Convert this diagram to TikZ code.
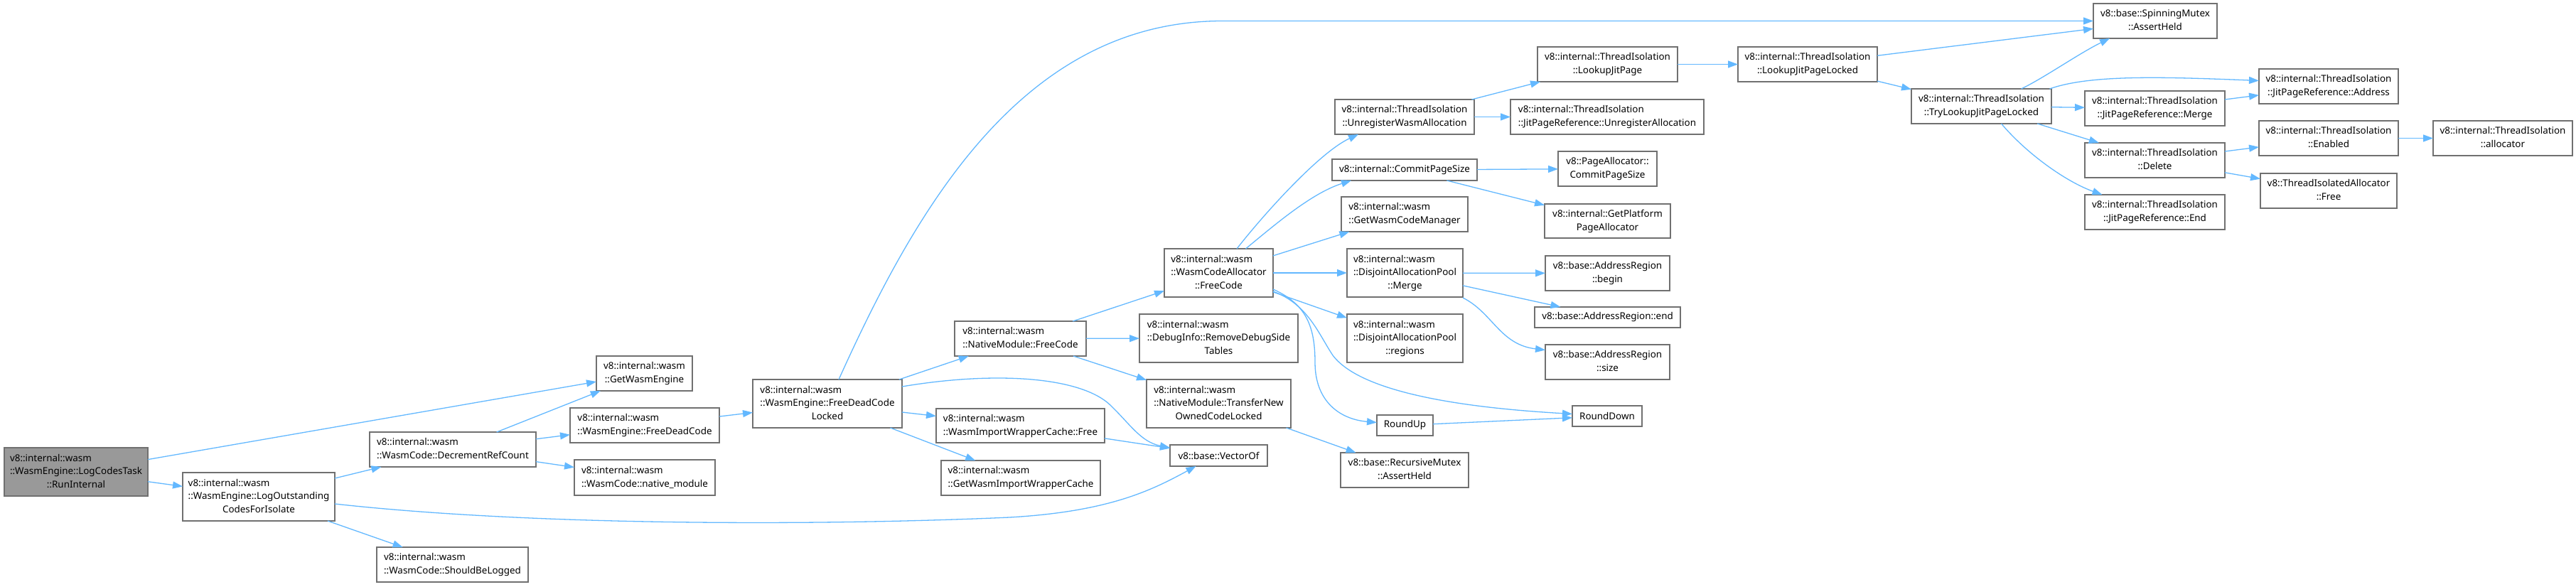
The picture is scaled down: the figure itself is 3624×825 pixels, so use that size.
\documentclass[tikz,border=0pt]{standalone}
\usepackage{fontspec}
\setmainfont{Noto Sans}
\usetikzlibrary{arrows.meta}
\definecolor{edgecol}{HTML}{63B8FF}
\definecolor{nodeborder}{HTML}{707070}
\definecolor{rootfill}{HTML}{999999}
\newcommand{\tl}[2]{\begin{tabular}{@{}l@{}}#1\\\multicolumn{1}{@{}c@{}}{#2}\end{tabular}}
\newcommand{\bx}[7]{%
  \pgfmathsetmacro{\bxcx}{(#2+#4)/2}\pgfmathsetmacro{\bxcy}{(#3+#5)/2}%
  \pgfmathsetmacro{\bxw}{#4-#2}\pgfmathsetmacro{\bxh}{#5-#3}%
  \node[box,#6,minimum width=\bxw pt,minimum height=\bxh pt] (#1) at (\bxcx,\bxcy) {#7};}
\tikzset{
  box/.style={draw=nodeborder,fill=white,line width=1.3pt,inner sep=0pt,outer sep=0pt,
    font=\fontsize{13.4}{18.7}\selectfont,text=black},
  rootbox/.style={fill=rootfill,draw=nodeborder},
  plain/.style={},
  edge/.style={draw=edgecol,line width=1.3pt,-{Triangle[length=14pt,width=10pt]}}
}
\begin{document}
\begin{tikzpicture}[x=1pt,y=-1pt]
\useasboundingbox (0,0) rectangle (3624,825);
\bx{run}{6}{630}{208}{698}{rootbox}{\tl{v8::internal::wasm\\::WasmEngine::LogCodesTask}{::RunInternal}}
\bx{log}{257}{665}{471}{733}{plain}{\tl{v8::internal::wasm\\::WasmEngine::LogOutstanding}{CodesForIsolate}}
\bx{gwe}{839}{501}{974}{550}{plain}{\tl{v8::internal::wasm}{::GetWasmEngine}}
\bx{dec}{520}{608}{754}{657}{plain}{\tl{v8::internal::wasm}{::WasmCode::DecrementRefCount}}
\bx{fdc}{802}{574}{1012}{623}{plain}{\tl{v8::internal::wasm}{::WasmEngine::FreeDeadCode}}
\bx{nm}{808}{647}{1006}{697}{plain}{\tl{v8::internal::wasm}{::WasmCode::native\_module}}
\bx{sbl}{530}{770}{743}{819}{plain}{\tl{v8::internal::wasm}{::WasmCode::ShouldBeLogged}}
\bx{fdcl}{1059}{534}{1269}{602}{plain}{\tl{v8::internal::wasm\\::WasmEngine::FreeDeadCode}{Locked}}
\bx{nmfc}{1343}{452}{1528}{501}{plain}{\tl{v8::internal::wasm}{::NativeModule::FreeCode}}
\bx{iwcf}{1317}{575}{1554}{623}{plain}{\tl{v8::internal::wasm}{::WasmImportWrapperCache::Free}}
\bx{giwc}{1324}{648}{1548}{697}{plain}{\tl{v8::internal::wasm}{::GetWasmImportWrapperCache}}
\bx{vof}{1646}{626}{1783}{656}{plain}{v8::base::VectorOf}
\bx{dbg}{1603}{442}{1826}{510}{plain}{\tl{v8::internal::wasm\\::DebugInfo::RemoveDebugSide}{Tables}}
\bx{tnoc}{1613}{534}{1816}{602}{plain}{\tl{v8::internal::wasm\\::NativeModule::TransferNew}{OwnedCodeLocked}}
\bx{wcafc}{1638}{350}{1791}{418}{plain}{\tl{v8::internal::wasm\\::WasmCodeAllocator}{::FreeCode}}
\bx{uwa}{1878}{140}{2074}{189}{plain}{\tl{v8::internal::ThreadIsolation}{::UnregisterWasmAllocation}}
\bx{jpua}{2125}{140}{2397}{189}{plain}{\tl{v8::internal::ThreadIsolation}{::JitPageReference::UnregisterAllocation}}
\bx{cps}{1874}{224}{2078}{254}{plain}{v8::internal::CommitPageSize}
\bx{pacps}{2192}{213}{2331}{262}{plain}{\tl{v8::PageAllocator::}{CommitPageSize}}
\bx{gwcm}{1887}{277}{2065}{326}{plain}{\tl{v8::internal::wasm}{::GetWasmCodeManager}}
\bx{gppa}{2173}{287}{2350}{335}{plain}{\tl{v8::internal::GetPlatform}{PageAllocator}}
\bx{dapm}{1895}{350}{2058}{418}{plain}{\tl{v8::internal::wasm\\::DisjointAllocationPool}{::Merge}}
\bx{arb}{2174}{360}{2349}{409}{plain}{\tl{v8::base::AddressRegion}{::begin}}
\bx{are}{2159}{432}{2364}{461}{plain}{v8::base::AddressRegion::end}
\bx{dapr}{1895}{442}{2058}{510}{plain}{\tl{v8::internal::wasm\\::DisjointAllocationPool}{::regions}}
\bx{ars}{2174}{485}{2349}{534}{plain}{\tl{v8::base::AddressRegion}{::size}}
\bx{rup}{1937}{584}{2016}{613}{plain}{RoundUp}
\bx{rdn}{2212}{571}{2310}{600}{plain}{RoundDown}
\bx{rma}{1886}{637}{2066}{686}{plain}{\tl{v8::base::RecursiveMutex}{::AssertHeld}}
\bx{ljp}{2163}{66}{2360}{115}{plain}{\tl{v8::internal::ThreadIsolation}{::LookupJitPage}}
\bx{ljpl}{2445}{66}{2641}{115}{plain}{\tl{v8::internal::ThreadIsolation}{::LookupJitPageLocked}}
\bx{tljpl}{2689}{125}{2886}{174}{plain}{\tl{v8::internal::ThreadIsolation}{::TryLookupJitPageLocked}}
\bx{sma}{2945}{5}{3119}{54}{plain}{\tl{v8::base::SpinningMutex}{::AssertHeld}}
\bx{jpa}{3178}{97}{3374}{146}{plain}{\tl{v8::internal::ThreadIsolation}{::JitPageReference::Address}}
\bx{jpm}{2933}{128}{3130}{177}{plain}{\tl{v8::internal::ThreadIsolation}{::JitPageReference::Merge}}
\bx{en}{3178}{170}{3374}{219}{plain}{\tl{v8::internal::ThreadIsolation}{::Enabled}}
\bx{alloc}{3423}{170}{3619}{219}{plain}{\tl{v8::internal::ThreadIsolation}{::allocator}}
\bx{del}{2933}{201}{3130}{250}{plain}{\tl{v8::internal::ThreadIsolation}{::Delete}}
\bx{tiaf}{3180}{244}{3372}{293}{plain}{\tl{v8::ThreadIsolatedAllocator}{::Free}}
\bx{jpe}{2933}{274}{3130}{323}{plain}{\tl{v8::internal::ThreadIsolation}{::JitPageReference::End}}
% straight edges
\foreach \a/\b in {run/gwe,run/log,log/dec,log/sbl,dec/gwe,dec/fdc,dec/nm,fdc/fdcl,
  fdcl/nmfc,fdcl/iwcf,fdcl/giwc,nmfc/wcafc,nmfc/dbg,nmfc/tnoc,tnoc/rma,iwcf/vof,
  wcafc/gwcm,wcafc/dapm,wcafc/dapr,uwa/ljp,uwa/jpua,cps/pacps,cps/gppa,
  dapm/arb,dapm/are,rup/rdn,ljp/ljpl,ljpl/tljpl,ljpl/sma,tljpl/jpm,tljpl/del,
  jpm/jpa,del/en,del/tiaf,en/alloc}
  \draw[edge] (\a) -- (\b);
% curved edges
\draw[edge] ([xshift=16pt]fdcl.north) .. controls (1290,290) and (1440,29.5) .. (1720,29.5) -- (sma.west);
\draw[edge] ([yshift=24pt]fdcl.east) .. controls (1400,522) and (1520,530) .. (1562,570)
  .. controls (1590,597) and (1605,622) .. ([yshift=11pt]vof.west);
\draw[edge] ([yshift=-10pt]log.east) .. controls (750,740) and (1150,740) .. (1420,728)
  .. controls (1560,720) and (1620,690) .. ([xshift=-32pt]vof.south);
\draw[edge] ([yshift=-23pt]wcafc.east) .. controls (1838,428) and (1850,460) .. (1850,510)
  .. controls (1850,565) and (1885,590) .. ([yshift=4pt]rup.west);
\draw[edge] ([yshift=-26pt]wcafc.east) .. controls (1840,428) and (1855,470) .. (1875,500)
  .. controls (1920,560) and (2100,576) .. ([yshift=3pt]rdn.west);
\draw[edge] ([xshift=25.5pt]wcafc.north) .. controls (1775,305) and (1855,215) .. ([xshift=-65pt]uwa.south);
\draw[edge] ([xshift=38pt]wcafc.north) .. controls (1795,315) and (1845,272) .. ([xshift=-75pt]cps.south);
\draw[edge] ([yshift=-35pt]dapm.east) .. controls (2100,440) and (2110,485) .. ([yshift=17pt]ars.west);
\draw[edge] ([xshift=56pt]tljpl.north) .. controls (2875,110) and (2925,75) .. ([xshift=-64pt]sma.south);
\draw[edge] ([xshift=96pt]tljpl.north) .. controls (2940,105) and (3040,108) .. ([yshift=8pt]jpa.west);
\draw[edge] ([xshift=28pt]tljpl.south) .. controls (2850,215) and (2905,255) .. ([xshift=-74pt]jpe.north);
\end{tikzpicture}
\end{document}
